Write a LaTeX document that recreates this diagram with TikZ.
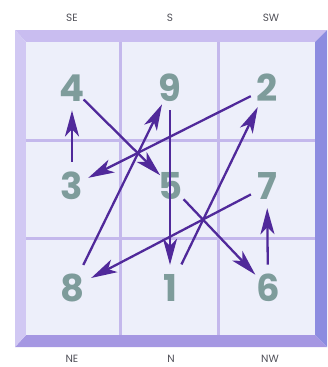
\documentclass[tikz,border=0pt]{standalone}
\usepackage{fontspec}
\setsansfont{Poppins}
\usepackage{tikz}
\usetikzlibrary{arrows.meta}
\usepackage{xcolor}
\definecolor{digitgrey}{HTML}{7E9C9B}
\definecolor{labelgrey}{HTML}{505058}
\definecolor{arrowpurple}{HTML}{50299A}
\definecolor{cellfill}{HTML}{EDEFFA}
\definecolor{gridline}{HTML}{C4B8EC}
\definecolor{bevtop}{HTML}{C9BDF0}
\definecolor{bevleft}{HTML}{D1C8F3}
\definecolor{bevright}{HTML}{8C8CE0}
\definecolor{bevbottom}{HTML}{A597E2}

\begin{document}
\begin{tikzpicture}[
        x=1pt, y=-1pt,
        digit/.style   = {circle, inner sep=0pt, minimum size=36pt, text=digitgrey, font=\sffamily\bfseries\fontsize{37}{37}\selectfont},
        compass/.style = {inner sep=0pt, text=labelgrey, font=\sffamily\fontsize{10.5}{10.5}\selectfont},
        arrow/.style   = {-{Stealth[length=26pt, width=14pt, inset=7pt]}, line width=2.3pt, draw=arrowpurple},
    ]
        \useasboundingbox (0,0) rectangle (327,367);

        % frame with bevel
        \fill[bevtop]    (15,30) -- (327,30) -- (315,42) -- (26,42) -- cycle;
        \fill[bevright]  (327,30) -- (327,347) -- (315,335) -- (315,42) -- cycle;
        \fill[bevbottom] (15,347) -- (327,347) -- (315,335) -- (26,335) -- cycle;
        \fill[bevleft]   (15,30) -- (26,42) -- (26,335) -- (15,347) -- cycle;
        \fill[cellfill]  (26,42) rectangle (315,335);

        % grid
        \draw[gridline, line width=3pt] (120,42) -- (120,335);
        \draw[gridline, line width=3pt] (218,42) -- (218,335);
        \draw[gridline, line width=3pt] (26,140) -- (315,140);
        \draw[gridline, line width=3pt] (26,238) -- (315,238);

        % compass labels
        \node[compass] (lse) at (72,18)  {SE};
        \node[compass] (ls)  at (170,18) {S};
        \node[compass] (lsw) at (271,18) {SW};
        \node[compass] (lne) at (72,359)  {NE};
        \node[compass] (ln)  at (171,359) {N};
        \node[compass] (lnw) at (270,359) {NW};

        % digits
        \node[digit] (n4) at (72,88)   {4};
        \node[digit] (n9) at (170,88)  {9};
        \node[digit] (n2) at (267,88)  {2};
        \node[digit] (n3) at (72,186)  {3};
        \node[digit] (n5) at (171,186) {5};
        \node[digit] (n7) at (267,186) {7};
        \node[digit] (n8) at (72,288)  {8};
        \node[digit] (n1) at (170,288) {1};
        \node[digit] (n6) at (268,288) {6};

        % path 1 -> 9
        \draw[arrow, shorten <=8pt, shorten >=3pt] (n1) -- (n2);
        \draw[arrow] (n2) -- (n3);
        \draw[arrow, shorten <=6pt, shorten >=4pt] (n3) -- (n4);
        \draw[arrow, shorten <=-2pt, shorten >=-3pt] (n4) -- (n5);
        \draw[arrow] (n5) -- (n6);
        \draw[arrow, shorten <=5pt, shorten >=4pt] (n6) -- (n7);
        \draw[arrow, shorten >=3pt] (n7) -- (n8);
        \draw[arrow, shorten <=7pt] (n8) -- (n9);
        \draw[arrow, shorten <=4pt, shorten >=5pt] (n9) -- (n1);
    \end{tikzpicture}
\end{document}
